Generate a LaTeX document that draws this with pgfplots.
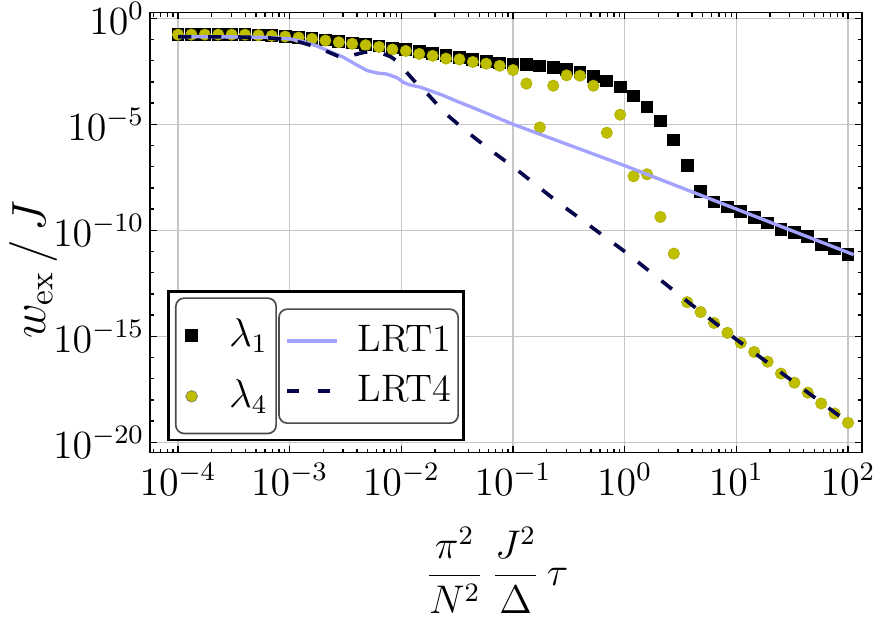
\documentclass[border=0pt]{standalone}
\usepackage{pgfplots}
\pgfplotsset{compat=1.18}
\definecolor{lamfour}{rgb}{0.75,0.75,0}
\definecolor{lamfouredge}{rgb}{0.68,0.68,0}
\definecolor{lrtone}{rgb}{0.64,0.64,1}
\definecolor{lrtfour}{rgb}{0.02,0.02,0.3}
\begin{document}
\begin{tikzpicture}
\begin{axis}[xmode=log, ymode=log, scale only axis, width=213.6pt, height=132pt,
  xmin=5.61e-5, xmax=133.4, ymin=3.24e-21, ymax=1.84,
  name=main, clip marker paths=true,
  axis line style={line width=0.5pt},
  tick align=inside,
  major tick length=2pt, minor tick length=1.2pt,
  every tick/.append style={black, line width=0.4pt},
  xtick={1e-4,1e-3,1e-2,1e-1,1,1e1,1e2},
  ytick={1e-20,1e-15,1e-10,1e-5,1},
  minor xtick={6e-5,7e-5,8e-5,9e-5,
    2e-4,3e-4,4e-4,5e-4,6e-4,7e-4,8e-4,9e-4,
    2e-3,3e-3,4e-3,5e-3,6e-3,7e-3,8e-3,9e-3,
    2e-2,3e-2,4e-2,5e-2,6e-2,7e-2,8e-2,9e-2,
    0.2,0.3,0.4,0.5,0.6,0.7,0.8,0.9,
    2,3,4,5,6,7,8,9,
    20,30,40,50,60,70,80,90},
  minor ytick={1e-1,1e-2,1e-3,1e-4,1e-6,1e-7,1e-8,1e-9,1e-11,1e-12,1e-13,1e-14,1e-16,1e-17,1e-18,1e-19},
  grid=major,
  major grid style={line width=0.35pt, gray!45},
  tick label style={font=\fontsize{12}{14}\selectfont},
  yticklabel style={inner xsep=1.5pt},
  xticklabel style={inner ysep=3pt},
  xlabel={$\displaystyle\frac{\pi^2}{N^2}\,\frac{J^2}{\Delta}\,\tau$},
  xlabel style={at={(axis description cs:0.487,0)}, anchor=center, yshift=-35.2pt, font=\fontsize{12}{14}\selectfont},
  ylabel={$w_{\mathrm{ex}}\,/\,J$},
  ylabel style={at={(axis description cs:-0.164,0.415)}, anchor=center, font=\fontsize{14}{17}\selectfont},
]
% lambda_1
\addplot[only marks, mark=square*, mark size=1.7pt, black] coordinates {
(1e-4,0.170) (1.318e-4,0.170) (1.738e-4,0.170) (2.291e-4,0.170) (3.020e-4,0.170) (3.981e-4,0.169) (5.248e-4,0.162) (6.918e-4,0.151) (9.120e-4,0.141) (1.202e-3,0.126) (1.585e-3,0.110) (2.089e-3,0.0933) (2.754e-3,0.0794) (3.631e-3,0.0692) (4.786e-3,0.0589) (6.310e-3,0.0501) (8.318e-3,0.0398) (1.096e-2,0.0331) (1.445e-2,0.0275) (1.905e-2,0.0224) (2.512e-2,0.0178) (3.311e-2,0.0141) (4.365e-2,0.0112) (5.754e-2,9.33e-3) (7.586e-2,7.76e-3) (0.1,6.92e-3) (0.1318,6.46e-3) (0.1738,5.62e-3) (0.2291,4.79e-3) (0.3020,3.80e-3) (0.3981,2.95e-3) (0.5248,1.82e-3) (0.6918,1.10e-3) (0.9120,5.75e-4) (1.202,2.14e-4) (1.585,6.61e-5) (2.089,1.45e-5) (2.754,1.78e-6) (3.631,1.17e-7) (4.786,6.92e-9) (6.310,2.14e-9) (8.318,1.26e-9) (10.96,7.94e-10) (14.45,3.98e-10) (19.05,2.19e-10) (25.12,1.12e-10) (33.11,7.76e-11) (43.65,5.01e-11) (57.54,2.19e-11) (75.86,1.38e-11) (100,7.08e-12)
};
% lambda_4
\addplot[only marks, mark=*, mark size=1.7pt, draw=lamfouredge, fill=lamfour, line width=0.2pt] coordinates {
(1e-4,0.170) (1.318e-4,0.170) (1.738e-4,0.170) (2.291e-4,0.170) (3.020e-4,0.170) (3.981e-4,0.169) (5.248e-4,0.158) (6.918e-4,0.148) (9.120e-4,0.138) (1.202e-3,0.123) (1.585e-3,0.107) (2.089e-3,0.0891) (2.754e-3,0.0741) (3.631e-3,0.0631) (4.786e-3,0.0537) (6.310e-3,0.0447) (8.318e-3,0.0339) (1.096e-2,0.0288) (1.445e-2,0.0209) (1.905e-2,0.0170) (2.512e-2,0.0126) (3.311e-2,0.0115) (4.365e-2,8.71e-3) (5.754e-2,7.24e-3) (7.586e-2,5.75e-3) (0.1,3.63e-3) (0.1318,8.32e-4) (0.1738,7.08e-6) (0.2291,6.61e-4) (0.3020,2.04e-3) (0.3981,1.95e-3) (0.5248,6.61e-4) (0.6918,3.98e-6) (0.9120,2.82e-5) (1.202,3.55e-8) (1.585,4.37e-8) (2.089,4.27e-10) (2.754,7.94e-12) (3.631,4.07e-14) (4.786,1.38e-14) (6.310,4.27e-15) (8.318,1.45e-15) (10.96,4.90e-16) (14.45,1.82e-16) (19.05,6.31e-17) (25.12,1.74e-17) (33.11,6.46e-18) (43.65,2.19e-18) (57.54,6.76e-19) (75.86,2.29e-19) (100,8.32e-20)
};
% LRT1
\addplot[lrtone, line width=1pt, no marks] coordinates {
(1e-4,0.135) (3.162e-4,0.132) (6.310e-4,0.126) (1e-3,0.107) (1.318e-3,0.0794) (1.738e-3,0.0501) (2.291e-3,0.0269) (3.020e-3,0.0145) (3.981e-3,6.31e-3) (4.898e-3,3.47e-3) (6.026e-3,2.63e-3) (7.413e-3,2.34e-3) (9.120e-3,1.58e-3) (1.047e-2,9.33e-4) (1.202e-2,7.08e-4) (1.479e-2,5.62e-4) (1.820e-2,3.80e-4) (2.399e-2,2.24e-4) (3.162e-2,1.20e-4) (4.169e-2,6.76e-5) (0.1,1e-5) (1,1.12e-7) (10,1e-9) (112.2,7.08e-12)
};
% LRT4
\addplot[lrtfour, line width=1.1pt, no marks, dash pattern=on 4pt off 5pt] coordinates {
(1e-4,0.135) (3.162e-4,0.132) (6.310e-4,0.120) (1e-3,0.0955) (1.259e-3,0.0724) (1.738e-3,0.0447) (2.399e-3,0.0214) (2.951e-3,0.0135) (3.311e-3,0.0145) (3.802e-3,0.0191) (4.677e-3,0.0251) (5.495e-3,0.0263) (6.607e-3,0.0229) (7.943e-3,0.0158) (9.333e-3,8.91e-3) (1.072e-2,3.55e-3) (1.413e-2,6.92e-4) (1.778e-2,2.24e-4) (2.399e-2,3.80e-5) (3.715e-2,5.25e-6) (6.026e-2,7.08e-7) (0.1,1e-7) (0.2512,2.14e-9) (1,1e-11) (3.631,4.47e-14) (10,7.08e-16) (31.62,7.94e-18) (109.6,6.03e-20)
};
\draw[line width=0.8pt, black, fill=white] (rel axis cs:0.0257,0.0289) rectangle (rel axis cs:0.44,0.366);
\end{axis}
% legend for the markers
\begin{axis}[xmode=log, ymode=log, scale only axis, width=213.6pt, height=132pt,
  xmin=5.61e-5, xmax=133.4, ymin=3.24e-21, ymax=1.84,
  hide axis,
  legend style={at={(axis description cs:0.0351,0.353)}, anchor=north west,
    draw=gray!60!black, line width=0.5pt, rounded corners=2.5pt, fill=white,
    inner xsep=2.5pt, inner ysep=2pt, column sep=9pt,
    font=\fontsize{11.5}{13}\selectfont,
    nodes={inner sep=0pt, minimum height=18.3pt, anchor=center}},
  legend image code/.code={\path (-2pt,0pt) -- (2pt,0pt); \draw[sharp corners,#1] plot coordinates {(0pt,0pt)};},
]
\addplot[draw=none, forget plot] coordinates {(1,1e-5)};
\addlegendimage{only marks, mark=square*, mark size=1.7pt, black}
\addlegendentry{$\lambda_1$}
\addlegendimage{only marks, mark=*, mark size=1.7pt, draw=gray!70!lamfour, fill=lamfour, line width=0.3pt}
\addlegendentry{$\lambda_4$}
\end{axis}
% legend for the lines
\begin{axis}[xmode=log, ymode=log, scale only axis, width=213.6pt, height=132pt,
  xmin=5.61e-5, xmax=133.4, ymin=3.24e-21, ymax=1.84,
  hide axis,
  legend style={at={(axis description cs:0.180,0.328)}, anchor=north west,
    draw=gray!60!black, line width=0.5pt, rounded corners=2.5pt, fill=white,
    inner xsep=2pt, inner ysep=2pt, column sep=5.7pt,
    font=\fontsize{11.5}{13}\selectfont,
    nodes={inner sep=0pt, minimum height=15.1pt, anchor=center}},
  legend image code/.code={\draw[sharp corners,#1] (0pt,0pt) -- (14.8pt,0pt);},
]
\addplot[draw=none, forget plot] coordinates {(1,1e-5)};
\addlegendimage{lrtone, line width=1.1pt}
\addlegendentry{LRT1}
\addlegendimage{lrtfour, line width=1.1pt, dash pattern=on 3.6pt off 5.5pt}
\addlegendentry{LRT4}
\end{axis}
\pgfresetboundingbox
\path[use as bounding box] ([xshift=-45pt,yshift=-52.6pt]main.south west) rectangle ([xshift=3.9pt,yshift=3.8pt]main.north east);
\end{tikzpicture}
\end{document}
